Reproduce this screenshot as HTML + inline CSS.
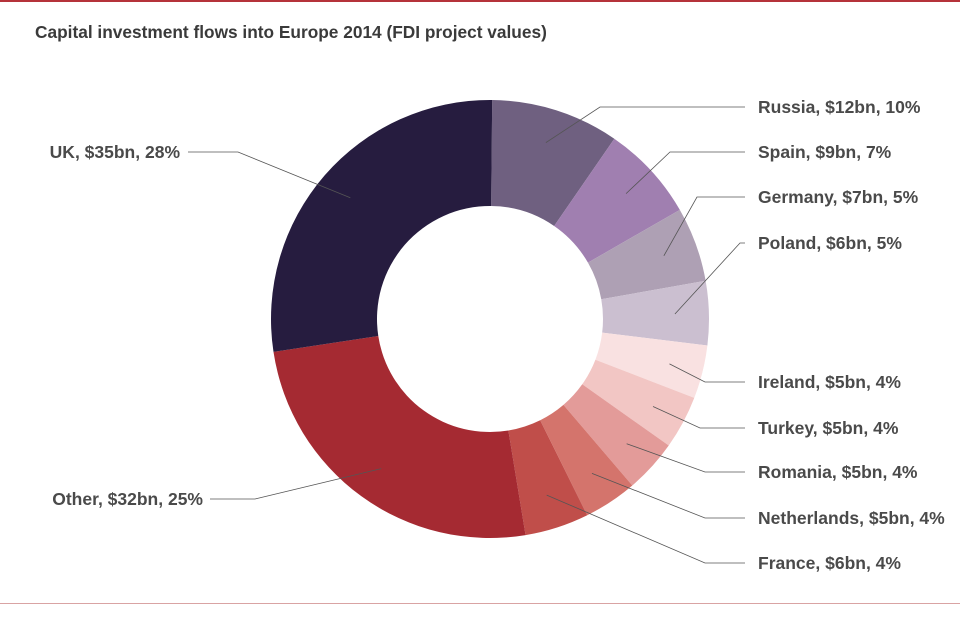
<!DOCTYPE html>
<html><head><meta charset="utf-8"><style>
body{margin:0;background:#fff;}
svg{display:block;font-family:"Liberation Sans",sans-serif;}
</style></head><body>
<svg width="960" height="640" viewBox="0 0 960 640">
<rect x="0" y="0" width="960" height="2" fill="#b5333a"/>
<rect x="0" y="603" width="960" height="1" fill="#d9a3a3"/>
<text x="35" y="38" font-size="17.3" font-weight="bold" fill="#3a3a3a">Capital investment flows into Europe 2014 (FDI project values)</text>
<g id="slices"></g>
<g id="labels"></g>
</svg>
<script>
const categories=["Russia","Spain","Germany","Poland","Ireland","Turkey","Romania","Netherlands","France","Other","UK"];
const values=[12,9,7,6,5,5,5,5,6,32,35];
const percents=["10%","7%","5%","5%","4%","4%","4%","4%","4%","25%","28%"];
const colors=["#6f6080","#a07fb0","#aea0b4","#cbbfd0","#f9e1e1","#f2c6c4","#e39b99","#d4746c","#c04e4a","#a52a32","#261c3f"];
const labelY=[107,152,197,243,382,428,472,518,563,499,152];
const elbowX=[600,670,697,740,705,700,705,705,705,255,238];
const cx=490,cy=319,R=219,r=113;
const NS="http://www.w3.org/2000/svg";
const total=values.reduce((a,b)=>a+b,0);
const gS=document.getElementById('slices'),gL=document.getElementById('labels');
function pt(a,rad){return [cx+rad*Math.sin(a),cy-rad*Math.cos(a)];}
let a0=0.01;
values.forEach((v,i)=>{
  const a1=a0+v/total*2*Math.PI;
  const large=(a1-a0)>Math.PI?1:0;
  const p1=pt(a0,R),p2=pt(a1,R),p3=pt(a1,r),p4=pt(a0,r);
  const path=document.createElementNS(NS,'path');
  path.setAttribute('d',`M${p1[0]},${p1[1]}A${R},${R} 0 ${large} 1 ${p2[0]},${p2[1]}L${p3[0]},${p3[1]}A${r},${r} 0 ${large} 0 ${p4[0]},${p4[1]}Z`);
  path.setAttribute('fill',colors[i]);
  
  
  gS.appendChild(path);
  const m=(a0+a1)/2;const ip=pt(m,185);
  const y=labelY[i];
  const right=ip[0]>cx;
  const line=document.createElementNS(NS,'polyline');
  let pts;
  if(right){pts=`${ip[0]},${ip[1]} ${elbowX[i]},${y} 745,${y}`;}
  else{pts=`${ip[0]},${ip[1]} ${elbowX[i]},${y} ${i===9?210:188},${y}`;}
  line.setAttribute('points',pts);
  line.setAttribute('fill','none');line.setAttribute('stroke','#555');line.setAttribute('stroke-width','0.8');
  
  
  gL.appendChild(line);
  const t=document.createElementNS(NS,'text');
  t.textContent=`${categories[i]}, $${v}bn, ${percents[i]}`;
  t.setAttribute('x',right?758:(i===9?203:180));
  t.setAttribute('y',y+6);
  t.setAttribute('text-anchor',right?'start':'end');
  t.setAttribute('font-size','17.5');t.setAttribute('font-weight','bold');t.setAttribute('fill','#4a4a4a');
  
  
  gL.appendChild(t);
  a0=a1;
});
</script>
</body></html>
